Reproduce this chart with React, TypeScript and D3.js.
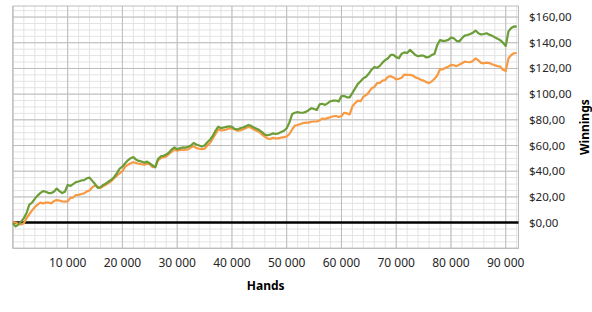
import React from "react";
import * as d3 from "d3";

const HAND_STEP = 500;
const xTicks = [10000, 20000, 30000, 40000, 50000, 60000, 70000, 80000, 90000];
const yTicks = [0, 20, 40, 60, 80, 100, 120, 140, 160];

const greenValues = [
  -0.5, -3, -1.5, 0.8, 3.5, 7.5, 14, 15.5, 18.5, 21,
  23, 24.5, 24, 23, 23, 24, 26.5, 24.5, 23, 24,
  29.3, 28.6, 30, 31.5, 32, 32.8, 33, 34.5, 35, 32.5,
  30, 27, 27.5, 29.3, 30.5, 32, 33.5, 35.5, 38.5, 42,
  43.5, 46.2, 48.5, 50.1, 51, 49, 48, 47.5, 46.5, 47.5,
  46, 44.5, 43, 49.5, 51.5, 52, 53, 54.5, 57, 58.5,
  57, 58, 58.5, 58.4, 59, 60, 62, 60.8, 60, 59.2,
  60, 62.5, 64.5, 67.5, 71.5, 74.7, 73.5, 74, 74.5, 75,
  74.5, 73, 72.5, 73.4, 74, 74.9, 76, 75.3, 74, 73,
  72, 70.5, 68.5, 68, 68.5, 69.4, 69, 69.5, 70.5, 71.5,
  73.5, 78, 84.5, 85.5, 86, 85.5, 85.5, 86.2, 87.5, 89,
  88.5, 87.7, 92, 92.5, 91.6, 93, 94.5, 95, 95, 94.2,
  98.5, 98.5, 97.5, 97.5, 101, 104.5, 108, 110, 112.4, 113.5,
  116, 119, 121, 120.5, 122, 124.5, 126.6, 127.9, 130.5, 130.5,
  128.8, 128, 131.5, 132.5, 132, 134.4, 132.5, 130.5, 129.5, 130,
  130, 128.5, 129, 130.5, 131.5, 138.3, 142, 141.5, 141.5, 142.2,
  144, 143.5, 141.5, 141, 143.5, 145.5, 146, 146.8, 147.8, 149.5,
  147.4, 146.4, 146.8, 147.4, 146.3, 145.5, 144.2, 143.2, 142, 140,
  137.5, 148.8, 151.5, 152.7, 152.5,
];

const orangeValues = [
  0.5, 0, -1, -1.5, -0.5, 3.5, 6.5, 9.5, 12, 14,
  15.5, 15, 15.5, 15.6, 15, 16.8, 17.5, 17.2, 16.5, 16.3,
  16.5, 19.2, 19.5, 21.5, 21.6, 22.3, 22.8, 24.3, 25, 27.5,
  29, 28, 27, 28.5, 29.5, 31, 32.5, 34.5, 36.5, 38.4,
  40, 43.5, 45, 46.2, 47, 46.4, 45.8, 45.4, 45, 45.8,
  45.5, 43.2, 43.5, 48.5, 50.1, 51, 51.4, 53.5, 55, 57,
  56, 56.8, 56.6, 56.8, 57, 58.5, 59.5, 58, 57.5, 57.2,
  57.5, 60, 62, 65.5, 69, 72.5, 71.8, 72, 72.5, 73.4,
  73.2, 72.5, 71.5, 71.8, 72.5, 73.4, 74.5, 73.8, 72.5, 71.5,
  70.5, 68.5, 67, 65.5, 65, 66, 65.5, 65.6, 66.2, 66.5,
  67, 69, 72.5, 75.5, 76, 76.8, 77.5, 77.8, 77.8, 78.5,
  78.7, 78.7, 79.5, 81, 80.6, 81.5, 82, 82.8, 83, 82.2,
  83, 85.5, 85, 84.2, 90.5, 93, 95, 94.5, 98, 99.2,
  101.5, 104.5, 105.5, 108.5, 108.8, 110.5, 111, 113.5, 114, 113,
  111.5, 112, 112.8, 115.2, 115, 115, 114.5, 113, 112.4, 111.2,
  110.5, 109.5, 108.5, 110, 112, 114.5, 119.5, 119.3, 120.5, 121.4,
  122.8, 122.5, 121.8, 122.9, 124, 125.3, 125, 124.8, 125.8, 127.9,
  126.3, 124.3, 124, 124.5, 124.2, 123.2, 122.5, 121.8, 121.4, 119,
  118, 127.9, 130.5, 131.8, 132,
];

const W = 592;
const H = 312;
const plot = { left: 12.9, right: 518.5, top: 6, bottom: 248.3 };

export default function App() {
  const x = d3.scaleLinear().domain([0, 92330]).range([plot.left, plot.right]);
  const y = d3.scaleLinear().domain([-20, 168.6]).range([plot.bottom, plot.top]);

  const minorX = d3.range(0, 92330, 2000);
  const majorX = d3.range(0, 92330, 10000);
  const minorY = d3.range(-20, 168.6, 5);
  const majorY = d3.range(-20, 168.6, 20);

  const line = d3
    .line<number>()
    .x((_, i) => x(i * HAND_STEP))
    .y((d) => y(d));

  const fmtX = (v: number) => d3.format(",")(v).replace(/,/g, " ");
  const fmtY = (v: number) => "$" + v.toFixed(2).replace(".", ",");
  const font = "'Segoe UI', 'Noto Sans', sans-serif";

  return (
    <svg
      width={W}
      height={H}
      style={{ position: "absolute", left: 0, top: 0, background: "#fff" }}
      fontFamily={font}
    >
      <rect x={0} y={0} width={W} height={H} fill="#fff" />
      {minorX.map((v) => (
        <line key={"mx" + v} x1={x(v)} x2={x(v)} y1={plot.top} y2={plot.bottom} stroke="#e3e3e3" strokeWidth={1} />
      ))}
      {minorY.map((v) => (
        <line key={"my" + v} x1={plot.left} x2={plot.right} y1={y(v)} y2={y(v)} stroke="#e3e3e3" strokeWidth={1} />
      ))}
      {majorX.map((v) => (
        <line key={"Mx" + v} x1={x(v)} x2={x(v)} y1={plot.top} y2={plot.bottom} stroke="#bdbdbd" strokeWidth={1} />
      ))}
      {majorY.map((v) => (
        <line key={"My" + v} x1={plot.left} x2={plot.right} y1={y(v)} y2={y(v)} stroke="#bdbdbd" strokeWidth={1} />
      ))}
      <rect
        x={plot.left}
        y={plot.top}
        width={plot.right - plot.left}
        height={plot.bottom - plot.top}
        fill="none"
        stroke="#bdbdbd"
        strokeWidth={1}
      />
      <line x1={plot.left} x2={plot.right} y1={y(0)} y2={y(0)} stroke="#000" strokeWidth={2.5} />
      <path d={line(orangeValues) || ""} fill="none" stroke="#f79a43" strokeWidth={2.2} strokeLinejoin="round" />
      <path d={line(greenValues) || ""} fill="none" stroke="#6b9d38" strokeWidth={2.2} strokeLinejoin="round" />
      {xTicks.map((v) => (
        <text key={"xt" + v} x={x(v)} y={267} textAnchor="middle" fontSize={12} fill="#262626">
          {fmtX(v)}
        </text>
      ))}
      {yTicks.map((v) => (
        <text key={"yt" + v} x={529} y={y(v)} dy="0.35em" textAnchor="start" fontSize={11.5} fill="#262626">
          {fmtY(v)}
        </text>
      ))}
      <text x={(plot.left + plot.right) / 2} y={290} textAnchor="middle" fontSize={12} fontWeight="bold" fill="#000">
        Hands
      </text>
      <text
        transform={`translate(589, ${(plot.top + plot.bottom) / 2}) rotate(-90)`}
        textAnchor="middle"
        fontSize={12}
        fontWeight="bold"
        fill="#000"
      >
        Winnings
      </text>
    </svg>
  );
}
